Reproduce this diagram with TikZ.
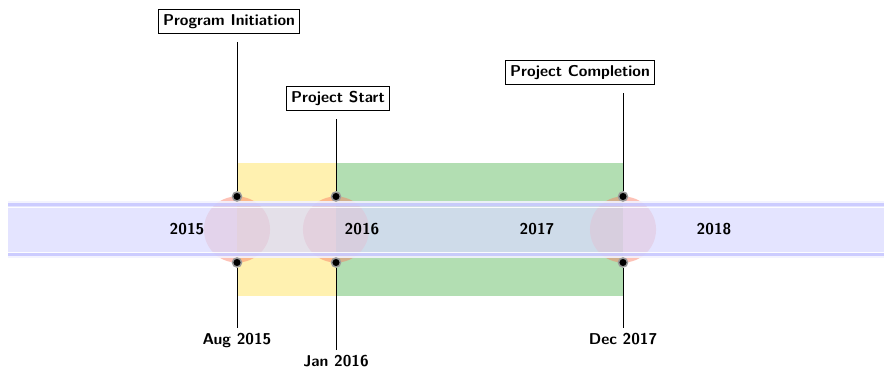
\documentclass[tikz,border=0pt]{standalone}

\definecolor{phaseone}{RGB}{255,241,176}
\definecolor{phasetwo}{RGB}{178,222,178}
\definecolor{bandblue}{RGB}{218,218,255}
\definecolor{glow}{RGB}{250,120,95}

\begin{document}
\begin{tikzpicture}
		[	x=0.72pt,y=0.72pt,
		every node/.style={font=\fontsize{11.3}{13.5}\selectfont\sffamily\bfseries},
		milestone/.style={rectangle,draw=black,fill=white,line width=0.6pt},
		datelabel/.style={anchor=north},
		pin/.style={circle,fill=black,draw=black!40,line width=1.1pt,minimum size=6.5pt,inner sep=0pt},
		halo/.style={fill=glow,opacity=0.45},
		tick/.style={draw=black,line width=0.6pt}
		]
	\useasboundingbox (0,-138.5) rectangle (884,229.5);

	% phases behind the band
	\fill[phaseone] (237,-66) rectangle (336,66);
	\fill[phasetwo] (336,-66) rectangle (623,66);

	% event positions
	\coordinate (e1) at (237,0);
	\coordinate (e2) at (336,0);
	\coordinate (e3) at (623,0);

	\fill[halo] (e1) circle (23.8pt);
	\fill[halo] (e2) circle (23.8pt);
	\fill[halo] (e3) circle (23.8pt);

	% the band
	\fill[bandblue,opacity=0.72] (8,-28) rectangle (884,28);
	\draw[white,opacity=0.6,line width=1.2pt] (8,27.5) -- (884,27.5);
	\draw[white,opacity=0.6,line width=1.2pt] (8,-27.5) -- (884,-27.5);
	\draw[blue!22,opacity=0.8,line width=1.6pt] (8,25) -- (884,25);
	\draw[blue!22,opacity=0.8,line width=1.6pt] (8,-25) -- (884,-25);
	\draw[white,opacity=0.9,line width=0.7pt] (8,22.5) -- (884,22.5);
	\draw[white,opacity=0.9,line width=0.7pt] (8,-22.5) -- (884,-22.5);

	% milestone labels and dates
	\node[milestone] (init) at (229,208) {Program Initiation};
	\node[milestone] (start) at (338,131) {Project Start};
	\node[milestone] (done) at (580,157) {Project Completion};

	\node[datelabel] (aug) at (237,-98.5) {Aug 2015};
	\node[datelabel] (jan) at (336,-120.5) {Jan 2016};
	\node[datelabel] (dec) at (623,-98.5) {Dec 2017};

	\node[pin] (p1t) at (237,33) {};
	\node[pin] (p1b) at (237,-33) {};
	\node[pin] (p2t) at (336,33) {};
	\node[pin] (p2b) at (336,-33) {};
	\node[pin] (p3t) at (623,33) {};
	\node[pin] (p3b) at (623,-33) {};

	\draw[tick,shorten <=6pt] (init.south -| p1t) -- (p1t);
	\draw[tick,shorten <=6pt] (start.south -| p2t) -- (p2t);
	\draw[tick,shorten <=6pt] (done.south -| p3t) -- (p3t);
	\draw[tick] (p1b) -- (aug.north);
	\draw[tick] (p2b) -- (jan.north);
	\draw[tick] (p3b) -- (dec.north);

	% years
	\node (y15) at (187,0) {2015};
	\node (y16) at (362,0) {2016};
	\node (y17) at (537,0) {2017};
	\node (y18) at (714,0) {2018};
\end{tikzpicture}
\end{document}
